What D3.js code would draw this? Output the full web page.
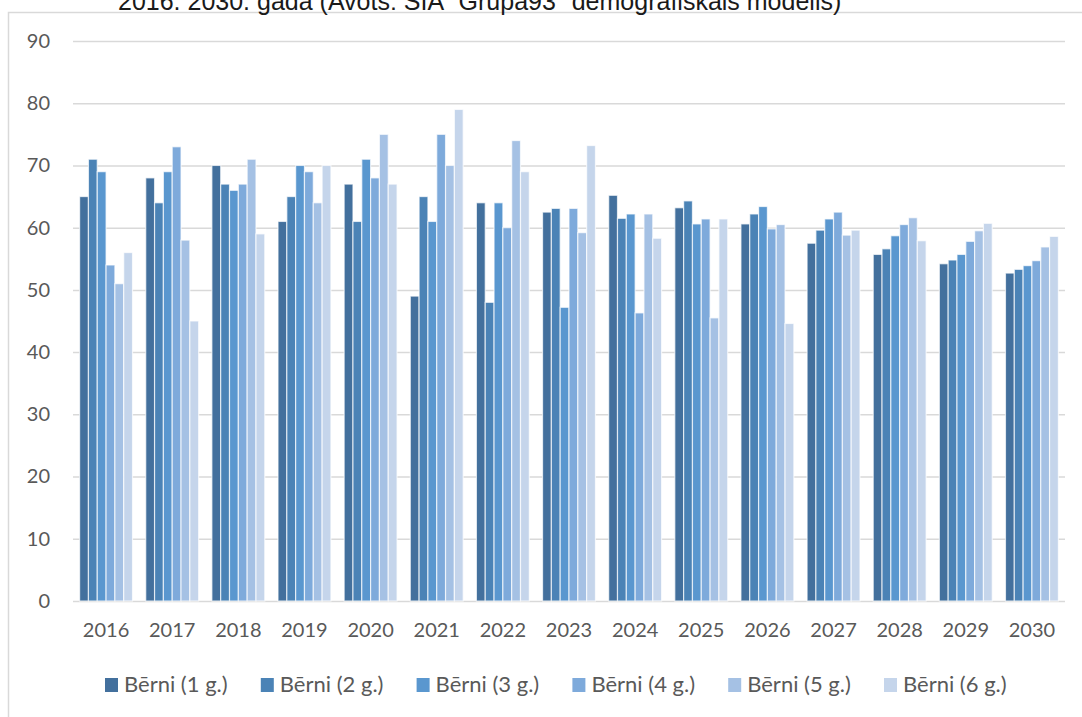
<!DOCTYPE html>
<html>
<head>
<meta charset="utf-8">
<script src="https://cdn.jsdelivr.net/npm/d3@7"></script>
<style>
  body { margin: 0; background: #fff; }
  svg { display: block; }
</style>
</head>
<body>
<div id="App"></div>
<script>
// values
const years = ['2016', '2017', '2018', '2019', '2020', '2021', '2022', '2023',
  '2024', '2025', '2026', '2027', '2028', '2029', '2030'];
const seriesNames = ['Bērni (1 g.)', 'Bērni (2 g.)', 'Bērni (3 g.)',
  'Bērni (4 g.)', 'Bērni (5 g.)', 'Bērni (6 g.)'];
const berni1 = [65, 68, 70, 61, 67, 49, 64, 62.5, 65.2, 63.2, 60.6, 57.5, 55.7, 54.2, 52.7];
const berni2 = [71, 64, 67, 65, 61, 65, 48, 63.1, 61.5, 64.3, 62.2, 59.6, 56.6, 54.8, 53.3];
const berni3 = [69, 69, 66, 70, 71, 61, 64, 47.2, 62.2, 60.6, 63.4, 61.4, 58.7, 55.7, 53.9];
const berni4 = [54, 73, 67, 69, 68, 75, 60, 63.1, 46.3, 61.4, 59.8, 62.5, 60.5, 57.8, 54.7];
const berni5 = [51, 58, 71, 64, 75, 70, 74, 59.2, 62.2, 45.5, 60.5, 58.8, 61.6, 59.5, 56.9];
const berni6 = [56, 45, 59, 70, 67, 79, 69, 73.2, 58.3, 61.4, 44.6, 59.6, 57.9, 60.7, 58.6];
const yTicks = [0, 10, 20, 30, 40, 50, 60, 70, 80, 90];

const colors = ['#43709d', '#4b83b6', '#5a97cf', '#7eaadb', '#a5c1e4', '#c5d5eb'];
const allSeries = [berni1, berni2, berni3, berni4, berni5, berni6];

const width = 1082;
const height = 717;
const margin = { left: 73, right: 17, top: 41, bottom: 116 };

const svg = d3.select('#App')
  .append('svg')
  .attr('width', width)
  .attr('height', height);

// chart frame (only left and top edges are inside the window)
svg.append('rect')
  .attr('x', 8.5)
  .attr('y', 12.5)
  .attr('width', width + 20)
  .attr('height', height + 20)
  .attr('fill', 'none')
  .attr('stroke', '#d9d9d9')
  .attr('stroke-width', 1.5);

// title, mostly cut off by the top of the window (as in the source image)
svg.append('text')
  .attr('x', 118)
  .attr('y', 10)
  .attr('font-family', 'Liberation Sans, Arial, sans-serif')
  .attr('font-size', 25)
  .attr('fill', '#1a1a1a')
  .text('2016. 2030. gada (Avots: SIA "Grupa93" demografiskais modelis)');

const x0 = d3.scaleBand()
  .domain(years)
  .range([margin.left, width - margin.right])
  .paddingInner(0.2)
  .paddingOuter(0.1);

const x1 = d3.scaleBand()
  .domain(d3.range(seriesNames.length))
  .range([0, x0.bandwidth()]);

const y = d3.scaleLinear()
  .domain([0, 90])
  .range([height - margin.bottom, margin.top]);

// gridlines
const yAxis = svg.append('g')
  .attr('transform', `translate(${margin.left},0)`)
  .call(d3.axisLeft(y).tickValues(yTicks).tickSize(-(width - margin.left - margin.right)).tickPadding(23));
yAxis.select('.domain').remove();
yAxis.selectAll('line').attr('stroke', '#d9d9d9').attr('stroke-width', 1.5);
yAxis.selectAll('text')
  .attr('font-family', 'Lato, sans-serif')
  .attr('font-size', 20)
  .attr('fill', '#595959');

// bars
const groups = svg.append('g')
  .selectAll('g')
  .data(years)
  .join('g')
  .attr('transform', d => `translate(${x0(d)},0)`);

groups.selectAll('rect')
  .data((d, i) => allSeries.map((s, k) => ({ k: k, v: s[i] })))
  .join('rect')
  .attr('x', d => x1(d.k))
  .attr('y', d => y(d.v))
  .attr('width', x1.bandwidth())
  .attr('height', d => y(0) - y(d.v))
  .attr('fill', d => colors[d.k])
  .attr('stroke', '#fff')
  .attr('stroke-opacity', 0.7)
  .attr('stroke-width', 1.2);

// x axis labels
const xAxis = svg.append('g')
  .attr('transform', `translate(0,${y(0)})`)
  .call(d3.axisBottom(x0).tickSize(0).tickPadding(22));
xAxis.select('.domain').remove();
xAxis.selectAll('text')
  .attr('font-family', 'Lato, sans-serif')
  .attr('font-size', 20)
  .attr('fill', '#595959');

// legend
const legend = svg.append('g')
  .selectAll('g')
  .data(seriesNames)
  .join('g')
  .attr('transform', (d, i) => `translate(${105 + i * 155.8},678)`);

legend.append('rect')
  .attr('width', 13)
  .attr('height', 14)
  .attr('fill', (d, i) => colors[i]);

legend.append('text')
  .attr('x', 19)
  .attr('y', 14)
  .attr('font-family', 'Lato, sans-serif')
  .attr('font-size', 22)
  .attr('fill', '#595959')
  .text(d => d);
</script>
</body>
</html>
